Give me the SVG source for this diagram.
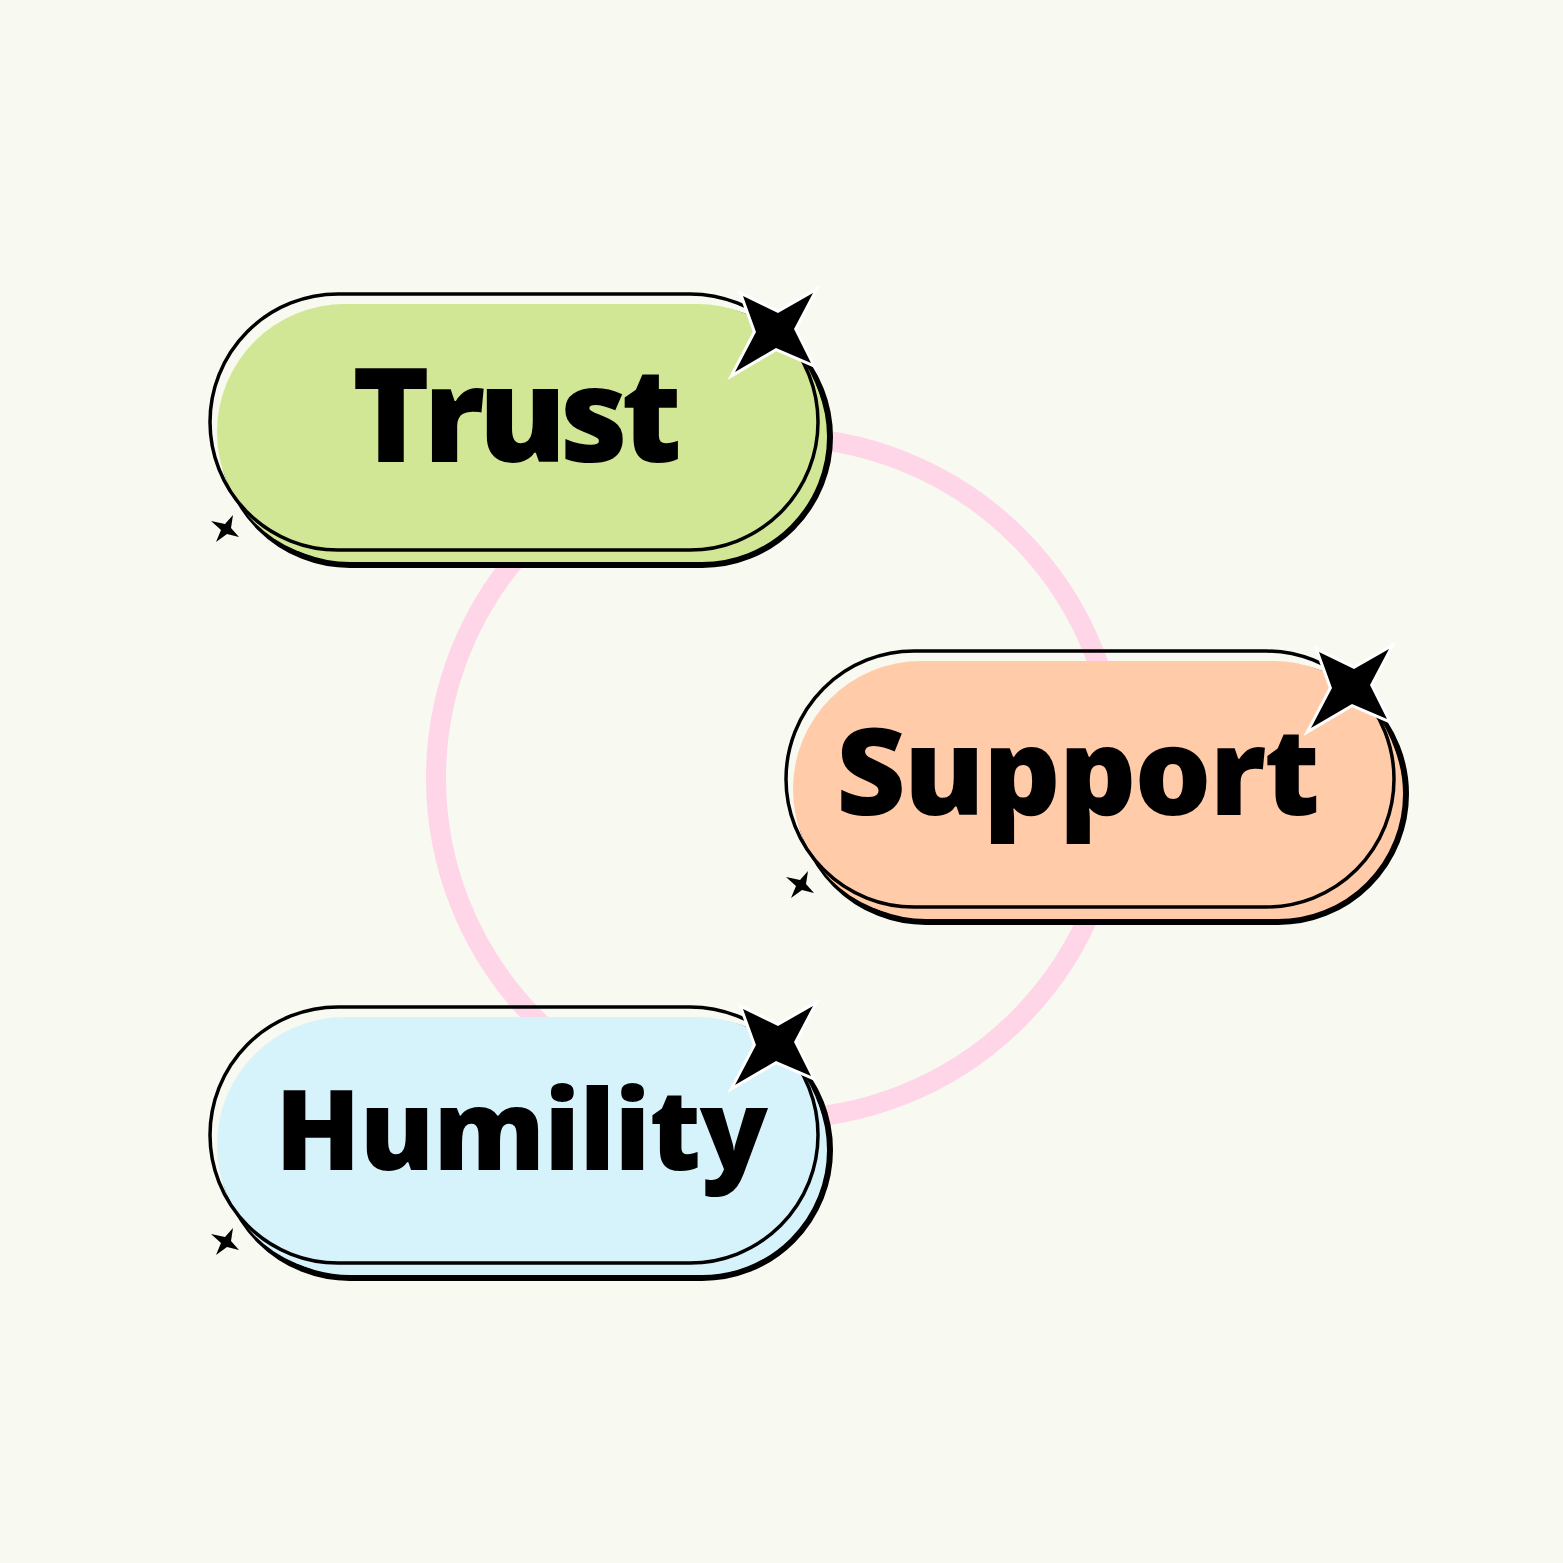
<svg xmlns="http://www.w3.org/2000/svg" width="1563" height="1563" viewBox="0 0 1563 1563">
<style>
.back{stroke:#000;stroke-width:6}
.outline{fill:none;stroke:#000;stroke-width:3.5}
.lbl{font-family:"Open Sans",Lato,"Liberation Sans",sans-serif;font-weight:800;fill:#000}
.bigstar{fill:#000;stroke:#fff;stroke-width:6;paint-order:stroke;stroke-linejoin:miter}
.smallstar{fill:#000}
</style>
<defs>
<path id="big" d="M-34,-34 L1,-17 L36,-37 L17,-1 L34,33 L-1,18 L-42,42 L-21,2 Z"/>
<path id="small" d="M-15,-8 L-1,-5 L7,-14 L5,-1 L13,8 L1,5 L-10,13 L-5,1 Z"/>
</defs>
<rect width="1563" height="1563" fill="#f8f9f1"/>
<g id="connectors">
<circle cx="777" cy="778" r="341" fill="none" stroke="#ffd5e8" stroke-width="20"/>
</g>
<g id="node-trust">
<rect class="back" x="222" y="309" width="608" height="256" rx="128" fill="#d1e795"/>
<rect x="217" y="304" width="608" height="256" rx="128" fill="#d1e795"/>
<rect class="outline" x="210" y="294" width="608" height="256" rx="128"/>
<text class="lbl" x="352" y="462" font-size="132" textLength="330" lengthAdjust="spacing">Trust</text>
<use href="#big" class="bigstar" x="777" y="330"/>
<use href="#small" class="smallstar" x="226" y="529"/>
</g>
<g id="node-support">
<rect class="back" x="798" y="666" width="608" height="256" rx="128" fill="#ffcba8"/>
<rect x="793" y="661" width="608" height="256" rx="128" fill="#ffcba8"/>
<rect class="outline" x="786" y="651" width="608" height="256" rx="128"/>
<text class="lbl" x="836" y="815" font-size="121" textLength="484" lengthAdjust="spacing">Support</text>
<use href="#big" class="bigstar" x="1353" y="686"/>
<use href="#small" class="smallstar" x="801" y="885"/>
</g>
<g id="node-humility">
<rect class="back" x="222" y="1022" width="608" height="256" rx="128" fill="#d6f3fb"/>
<rect x="217" y="1017" width="608" height="256" rx="128" fill="#d6f3fb"/>
<rect class="outline" x="210" y="1007" width="608" height="256" rx="128"/>
<text class="lbl" x="275" y="1170" font-size="112" textLength="493" lengthAdjust="spacing">Humility</text>
<use href="#big" class="bigstar" x="777" y="1043"/>
<use href="#small" class="smallstar" x="226" y="1242"/>
</g>
</svg>
